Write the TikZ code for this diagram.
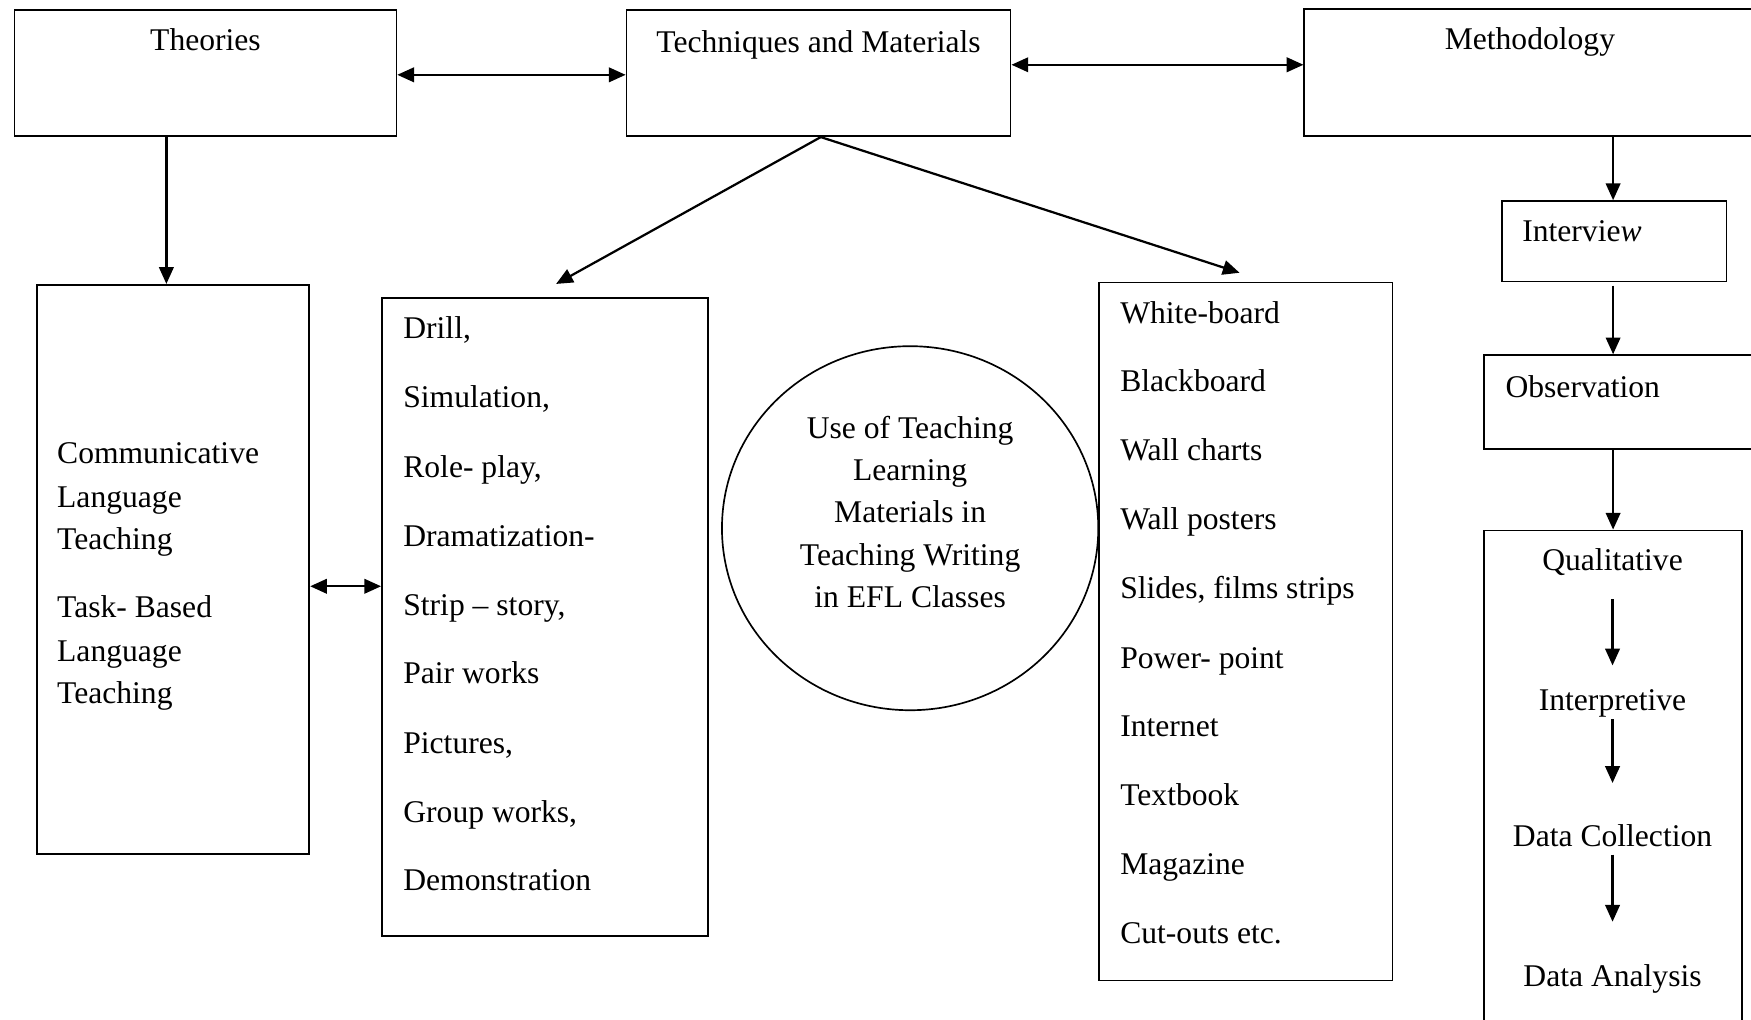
\documentclass[tikz,border=0pt]{standalone}
\usepackage{fontspec}
\setmainfont{Liberation Serif}
\usetikzlibrary{arrows.meta,calc,shapes.geometric}
\begin{document}
\begin{tikzpicture}[x=1pt,y=-1pt,
  box/.style={draw,line width=1.5pt,inner sep=0pt},
  txt/.style={font=\fontsize{28.3}{34}\selectfont,inner sep=0pt,anchor=mid west},
  ctxt/.style={font=\fontsize{28.3}{34}\selectfont,inner sep=0pt,anchor=mid},
  arr/.style={line width=2pt,-{Triangle[length=15pt,width=13pt]}},
  darr/.style={line width=2pt,{Triangle[length=15pt,width=13pt]}-{Triangle[length=15pt,width=13pt]}}]
\useasboundingbox (0,0) rectangle (1568,913);
\clip (0,0) rectangle (1568,913);
\fill[white] (0,0) rectangle (1568,913);

% top boxes
\node[box,minimum width=342pt,minimum height=113pt] (theo) at (184,65.5) {};
\node[ctxt] (theoT) at (184,43) {Theories};
\node[box,minimum width=344pt,minimum height=113pt] (tech) at (733,65.5) {};
\node[ctxt] (techT) at (733,45) {Techniques and Materials};
\node[box,minimum width=408pt,minimum height=114pt] (meth) at (1372,65) {};
\node[ctxt] (methT) at (1370,42) {Methodology};

% left box
\node[box,minimum width=244pt,minimum height=510pt] (clt) at (155,510) {};
\node[txt] (c1) at (51,413) {Communicative};
\node[txt] (c2) at (51,452) {Language};
\node[txt] (c3) at (51,490) {Teaching};
\node[txt] (c4) at (51,551) {Task- Based};
\node[txt] (c5) at (51,590) {Language};
\node[txt] (c6) at (51,628) {Teaching};

% techniques list
\node[box,minimum width=292pt,minimum height=571pt] (drill) at (488,552.5) {};
\node[txt] (d1) at (361,301) {Drill,};
\node[txt] (d2) at (361,363) {Simulation,};
\node[txt] (d3) at (361,425) {Role- play,};
\node[txt] (d4) at (361,487) {Dramatization-};
\node[txt] (d5) at (361,549) {Strip – story,};
\node[txt] (d6) at (361,610) {Pair works};
\node[txt] (d7) at (361,672) {Pictures,};
\node[txt] (d8) at (361,734) {Group works,};
\node[txt] (d9) at (361,795) {Demonstration};

% circle
\node[draw,line width=1.5pt,ellipse,inner sep=0pt,minimum width=337pt,minimum height=326pt] (circ) at (815,473) {};
\node[ctxt] (e1) at (815,390) {Use of Teaching};
\node[ctxt] (e2) at (815,428) {Learning};
\node[ctxt] (e3) at (815,466) {Materials in};
\node[ctxt] (e4) at (815,504) {Teaching Writing};
\node[ctxt] (e5) at (815,542) {in EFL Classes};

% materials list
\node[box,minimum width=263pt,minimum height=625pt] (wb) at (1115.5,565.5) {};
\node[txt] (w1) at (1003,287) {White-board};
\node[txt] (w2) at (1003,348) {Blackboard};
\node[txt] (w3) at (1003,410) {Wall charts};
\node[txt] (w4) at (1003,472) {Wall posters};
\node[txt] (w5) at (1003,534) {Slides, films strips};
\node[txt] (w6) at (1003,596) {Power- point};
\node[txt] (w7) at (1003,657) {Internet};
\node[txt] (w8) at (1003,719) {Textbook};
\node[txt] (w9) at (1003,781) {Magazine};
\node[txt] (w10) at (1003,843) {Cut-outs etc.};

% methodology column
\node[box,minimum width=201pt,minimum height=72pt] (intv) at (1445.5,216) {};
\node[txt] (intvT) at (1363,214) {Intervie\textit{w}};
\node[box,minimum width=250pt,minimum height=84pt] (obs) at (1454,360) {};
\node[txt] (obsT) at (1348,354) {Observation};
\node[box,minimum width=231pt,minimum height=470pt] (qual) at (1444.5,710) {};
\node[ctxt] (q1) at (1444,509) {Qualitative};
\node[ctxt] (q2) at (1444,634) {Interpretive};
\node[ctxt] (q3) at (1444,756) {Data Collection};
\node[ctxt] (q4) at (1444,881) {Data Analysis};

% connectors
\draw[darr] ([yshift=-1.5pt]theo.east) -- ([yshift=-1.5pt]tech.west);
\draw[darr] ([yshift=7.5pt]tech.east) -- ([yshift=7.5pt]tech.east -| meth.west);
\draw[arr] ([xshift=-35pt]theo.south) -- ([xshift=-35pt]theo.south |- clt.north);
\draw[arr] ([xshift=2pt]tech.south) -- ([xshift=10pt,yshift=12pt]drill.north);
\draw[arr] ([xshift=2pt]tech.south) -- ([xshift=-5.5pt,yshift=8pt]wb.north);
\draw[darr] ([yshift=-15pt]clt.east) -- ([yshift=-15pt]clt.east -| drill.west);
\draw[arr] (meth.south -| qual.north) -- (intv.north -| qual.north);
\draw[arr] ([yshift=-3pt]intv.south -| qual.north) -- (obs.north -| qual.north);
\draw[arr] (obs.south -| qual.north) -- (qual.north);
\draw[arr] ($(q1)!0.26!(q2)$) -- ($(q1)!0.73!(q2)$);
\draw[arr] ($(q2)!0.12!(q3)$) -- ($(q2)!0.6!(q3)$);
\draw[arr] ($(q3)!0.13!(q4)$) -- ($(q3)!0.6!(q4)$);
\end{tikzpicture}
\end{document}
